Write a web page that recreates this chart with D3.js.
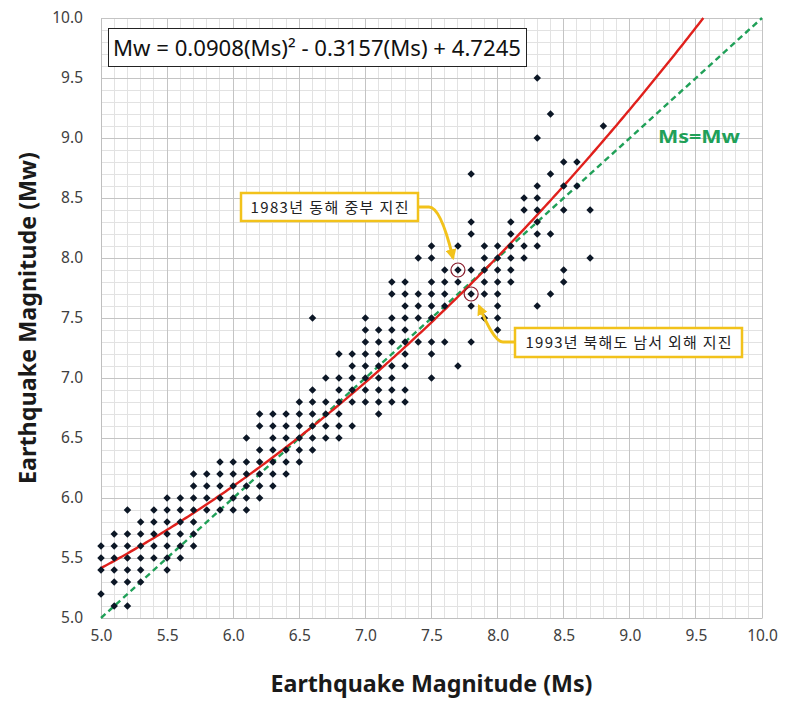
<!DOCTYPE html>
<html><head><meta charset="utf-8">
<script src="https://cdn.jsdelivr.net/npm/d3@7"></script>
<style>body{margin:0;background:#fff} svg{display:block}</style>
</head><body>
<svg id="chart" width="793" height="710"></svg>
<script>
// ---------------- DATA ----------------
const xTickValues = [5.0,5.5,6.0,6.5,7.0,7.5,8.0,8.5,9.0,9.5,10.0];
const yTickValues = [5.0,5.5,6.0,6.5,7.0,7.5,8.0,8.5,9.0,9.5,10.0];
// Mw level of each row of points
const mwRows = [9.5,9.2,9.1,9.0,8.8,8.7,8.6,8.5,8.4,8.3,8.2,8.1,8.0,7.9,7.8,7.7,7.6,7.5,7.4,7.3,7.2,7.1,7.0,6.9,6.8,6.7,6.6,6.5,6.4,6.3,6.2,6.1,6.0,5.9,5.8,5.7,5.6,5.5,5.4,5.3,5.2,5.1];
// Ms values of the points in each row
const msByRow = [
  [8.3],[8.4],[8.8],[8.3],[8.5,8.6],[7.8,8.4],[8.3,8.5,8.6],[8.2,8.3],[8.2,8.3,8.5,8.7],[7.8,8.1,8.3],
  [7.8,8.1,8.3,8.4],
  [7.5,7.7,7.9,8.0,8.1,8.2,8.3],
  [7.4,7.5,7.9,8.0,8.1,8.2,8.7],
  [7.6,7.7,7.8,7.9,8.0,8.1,8.5],
  [7.2,7.3,7.5,7.6,7.7,7.9,8.0,8.1,8.5],
  [7.2,7.3,7.4,7.5,7.6,7.8,7.9,8.0,8.4],
  [7.3,7.4,7.5,7.6,7.8,8.0,8.3],
  [6.6,7.0,7.2,7.3,7.4,7.5,7.9,8.0],
  [7.0,7.1,7.2,7.3,8.0],
  [7.0,7.1,7.2,7.3,7.4,7.5,7.6,7.8],
  [6.8,6.9,7.0,7.1,7.3,7.5],
  [6.9,7.0,7.1,7.2,7.3,7.7],
  [6.7,6.8,6.9,7.0,7.1,7.2,7.5],
  [6.6,6.8,6.9,7.0,7.1,7.2,7.3],
  [6.5,6.6,6.7,6.8,6.9,7.0,7.1,7.2,7.3],
  [6.2,6.3,6.4,6.5,6.6,6.7,6.8,7.1],
  [6.2,6.3,6.4,6.5,6.6,6.7,6.8,6.9],
  [6.1,6.3,6.4,6.5,6.6,6.7,6.8],
  [6.2,6.3,6.4,6.5,6.6],
  [5.9,6.0,6.1,6.2,6.3,6.4,6.5],
  [5.7,5.8,5.9,6.0,6.1,6.2,6.3,6.4],
  [5.7,5.8,5.9,6.0,6.1,6.2,6.3],
  [5.5,5.6,5.7,5.8,5.9,6.0,6.1,6.2],
  [5.2,5.4,5.5,5.6,5.7,5.8,5.9,6.0,6.1],
  [5.3,5.4,5.5,5.6,5.7],
  [5.1,5.2,5.3,5.4,5.5,5.6,5.7],
  [5.0,5.1,5.2,5.3,5.4,5.5,5.6,5.7],
  [5.0,5.1,5.2,5.3,5.4,5.5,5.6],
  [5.0,5.1,5.2,5.3,5.5],
  [5.1,5.2,5.3],
  [5.0],
  [5.1,5.2]
];
// regression Mw = a*Ms^2 + b*Ms + c
const fitCoef = [0.0908, -0.3157, 4.7245];
const equationText = "Mw = 0.0908(Ms)\u00B2 - 0.3157(Ms) + 4.7245";
const identityLabel = "Ms=Mw";
const xTitle = "Earthquake Magnitude (Ms)";
const yTitle = "Earthquake Magnitude (Mw)";
// highlighted events
const eventMs = [7.7, 7.8];
const eventMw = [7.9, 7.7];
const eventLabels = ["1983년 동해 중부 지진", "1993년 북해도 남서 외해 지진"];

// ---------------- CHART ----------------
(function () {
const svg = d3.select("#chart");
const pL = 101, pR = 762, pT = 18, pB = 618;
const x = d3.scaleLinear().domain([5, 10]).range([pL, pR]);
const y = d3.scaleLinear().domain([5, 10]).range([pB, pT]);

const points = [];
mwRows.forEach((mw, i) => msByRow[i].forEach(ms => points.push({ms, mw})));

// grid
const minor = d3.range(51).map(i => 5 + i * 0.1);
const gGrid = svg.append("g");
const gridLine = (sel, vertical, color) => sel
  .attr("x1", d => vertical ? x(d) : pL).attr("x2", d => vertical ? x(d) : pR)
  .attr("y1", d => vertical ? pT : y(d)).attr("y2", d => vertical ? pB : y(d))
  .attr("stroke", color).attr("stroke-width", 1).attr("shape-rendering", "crispEdges");
gridLine(gGrid.append("g").selectAll("line").data(minor).join("line"), true, "#e2e2e2");
gridLine(gGrid.append("g").selectAll("line").data(minor).join("line"), false, "#e2e2e2");
gridLine(gGrid.append("g").selectAll("line").data(xTickValues).join("line"), true, "#c4c4c4");
gridLine(gGrid.append("g").selectAll("line").data(yTickValues).join("line"), false, "#c4c4c4");

// axes
const fmt = d3.format(".1f");
const xAxis = svg.append("g").attr("transform", `translate(0,${pB})`)
  .call(d3.axisBottom(x).tickValues(xTickValues).tickSize(0).tickPadding(12).tickFormat(fmt));
const yAxis = svg.append("g").attr("transform", `translate(${pL},0)`)
  .call(d3.axisLeft(y).tickValues(yTickValues).tickSize(0).tickPadding(18).tickFormat(fmt));
[xAxis, yAxis].forEach(a => {
  a.select(".domain").attr("stroke", "#bfbfbf");
  a.selectAll("text").attr("font-family", "'Noto Sans', sans-serif").attr("font-size", 15.5).attr("fill", "#404040");
});

// identity line
svg.append("path").datum([[5,5],[10,10]])
  .attr("d", d3.line().x(d => x(d[0])).y(d => y(d[1])))
  .attr("fill", "none").attr("stroke", "#20a058").attr("stroke-width", 2.4).attr("stroke-dasharray", "6,4");

// regression curve
const f = m => fitCoef[0]*m*m + fitCoef[1]*m + fitCoef[2];
const msEnd = (-fitCoef[1] + Math.sqrt(fitCoef[1]*fitCoef[1] - 4*fitCoef[0]*(fitCoef[2]-10))) / (2*fitCoef[0]);
const curve = d3.range(5, msEnd, 0.02).concat([msEnd]).map(m => [m, f(m)]);
svg.append("path").datum(curve)
  .attr("d", d3.line().x(d => x(d[0])).y(d => y(d[1])))
  .attr("fill", "none").attr("stroke", "#e0201c").attr("stroke-width", 2.4);

// points
const diamond = { draw(ctx, size) { const r = Math.sqrt(size) / 2; ctx.moveTo(0,-r); ctx.lineTo(r,0); ctx.lineTo(0,r); ctx.lineTo(-r,0); ctx.closePath(); } };
svg.append("g").selectAll("path").data(points).join("path")
  .attr("transform", d => `translate(${x(d.ms)},${y(d.mw)})`)
  .attr("d", d3.symbol().type(diamond).size(56))
  .attr("fill", "#0c1726");

// event circles
svg.append("g").selectAll("circle").data(eventMs).join("circle")
  .attr("cx", d => x(d)).attr("cy", (d,i) => y(eventMw[i])).attr("r", 7)
  .attr("fill", "none").attr("stroke", "#8a1c2c").attr("stroke-width", 1.2);

// equation box
svg.append("rect").attr("x", 108.5).attr("y", 28.5).attr("width", 418).attr("height", 38)
  .attr("fill", "#fff").attr("stroke", "#222").attr("stroke-width", 1);
svg.append("text").attr("x", 113).attr("y", 56).text(equationText)
  .attr("font-family", "'Noto Sans', sans-serif").attr("font-size", 22).attr("fill", "#111")
  .attr("textLength", 408).attr("lengthAdjust", "spacingAndGlyphs");

// Ms=Mw label
svg.append("text").attr("x", 658).attr("y", 143).text(identityLabel)
  .attr("font-family", "'Noto Sans', sans-serif").attr("font-weight", "bold").attr("font-size", 18)
  .attr("fill", "#20a058").attr("textLength", 82).attr("lengthAdjust", "spacingAndGlyphs");

// callouts
const yellow = "#f2c21b";
const defs = svg.append("defs");
defs.append("marker").attr("id", "ah").attr("viewBox", "0 0 10 10").attr("refX", 8).attr("refY", 5)
  .attr("markerWidth", 11).attr("markerHeight", 11).attr("markerUnits", "userSpaceOnUse").attr("orient", "auto")
  .append("path").attr("d", "M0,0 L10,5 L0,10 Z").attr("fill", yellow);

const boxes = [
  {x0: 241, x1: 418, y0: 193, y1: 221, tl: 158},
  {x0: 515, x1: 742, y0: 328, y1: 357, tl: 206}
];
const arrowPaths = [
  "M418,207 L429,207 C439,207 447,233 453,258",
  "M515,342 L503,342 C495,342 486,322 479,306"
];
arrowPaths.forEach(p => svg.append("path").attr("d", p).attr("fill", "none")
  .attr("stroke", yellow).attr("stroke-width", 3).attr("marker-end", "url(#ah)"));
boxes.forEach((b, i) => {
  svg.append("rect").attr("x", b.x0).attr("y", b.y0).attr("width", b.x1 - b.x0).attr("height", b.y1 - b.y0)
    .attr("fill", "#fff").attr("stroke", yellow).attr("stroke-width", 2.5);
  svg.append("text").attr("x", (b.x0 + b.x1) / 2).attr("y", (b.y0 + b.y1) / 2 + 5.5)
    .attr("text-anchor", "middle").text(eventLabels[i])
    .attr("font-family", "'Noto Sans CJK KR', sans-serif").attr("font-size", 15).attr("fill", "#222")
    .attr("textLength", b.tl).attr("lengthAdjust", "spacing");
});

// axis titles
svg.append("text").attr("x", (pL + pR) / 2).attr("y", 692).attr("text-anchor", "middle").text(xTitle)
  .attr("font-family", "'Noto Sans', sans-serif").attr("font-weight", "bold").attr("font-size", 23).attr("fill", "#1a1a1a")
  .attr("textLength", 322).attr("lengthAdjust", "spacingAndGlyphs");
svg.append("text").attr("transform", `translate(36,${(pT + pB) / 2}) rotate(-90)`).attr("text-anchor", "middle").text(yTitle)
  .attr("font-family", "'Noto Sans', sans-serif").attr("font-weight", "bold").attr("font-size", 23).attr("fill", "#1a1a1a")
  .attr("textLength", 332).attr("lengthAdjust", "spacingAndGlyphs");
})();
</script>
</body></html>
